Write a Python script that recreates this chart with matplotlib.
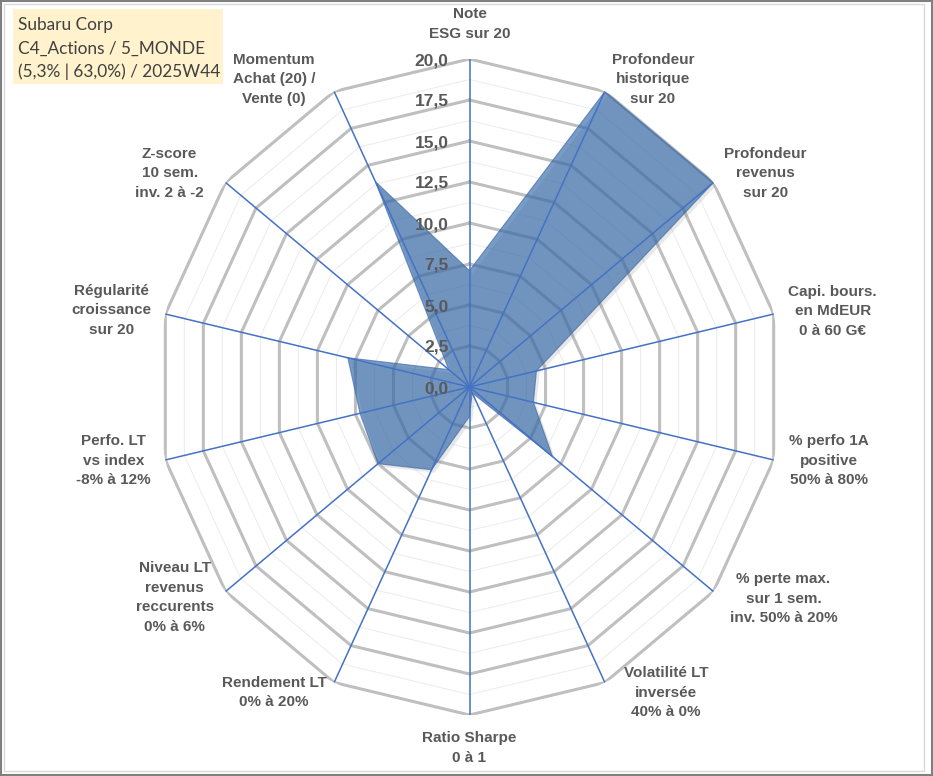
import numpy as np
import matplotlib
matplotlib.use("Agg")
import matplotlib.pyplot as plt
from matplotlib.patches import Rectangle
import matplotlib.transforms as mtransforms

# ---------------- data ----------------
categories = [
    "Note\nESG sur 20",
    "Profondeur\nhistorique\nsur 20",
    "Profondeur\nrevenus\nsur 20",
    "Capi. bours.\nen MdEUR\n0 à 60 G€",
    "% perfo 1A\npositive\n50% à 80%",
    "% perte max.\nsur 1 sem.\ninv. 50% à 20%",
    "Volatilité LT\ninversée\n40% à 0%",
    "Ratio Sharpe\n0 à 1",
    "Rendement LT\n0% à 20%",
    "Niveau LT\nrevenus\nreccurents\n0% à 6%",
    "Perfo. LT\nvs index\n-8% à 12%",
    "Régularité\ncroissance\nsur 20",
    "Z-score\n10 sem.\ninv. 2 à -2",
    "Momentum\nAchat (20) /\nVente (0)",
]
values = [7.1, 20.0, 20.0, 4.4, 4.2, 6.8, 0.4, 1.8, 5.6, 7.5, 7.2, 8.0, 1.7, 13.9]
tick_values = [0.0, 2.5, 5.0, 7.5, 10.0, 12.5, 15.0, 17.5, 20.0]
minor_values = [1.25, 3.75, 6.25, 8.75, 11.25, 13.75, 16.25, 18.75]
title_lines = ["Subaru Corp", "C4_Actions / 5_MONDE", "(5,3% | 63,0%) / 2025W44"]

# label offsets (pixels) from each axis end point
label_offsets = [(0, 35), (48, 12), (52, 9), (59, 3), (55, -1), (70, -7), (61, -10),
                 (0, -33), (-60, -10), (-51, -6), (-52, -1), (-54, 4), (-56, 9), (-60, 12)]

# ---------------- figure ----------------
W, H = 933, 776
fig = plt.figure(figsize=(W / 100, H / 100), dpi=100)
fig.patch.set_facecolor("white")

cx, cy = 469.5, 387.0      # centre in pixels (from top)
ra, rb = 312.0, 328.0      # horizontal / vertical radius
ax = fig.add_axes([(cx - ra) / W, (H - cy - rb) / H, 2 * ra / W, 2 * rb / H],
                  projection="polar")
ax.set_theta_offset(np.pi / 2)
ax.set_theta_direction(-1)
ax.set_ylim(0, 20)
ax.set_aspect("auto")
ax.set_xticks([])
ax.set_yticks([])
ax.grid(False)
ax.spines["polar"].set_visible(False)
ax.patch.set_alpha(0)

n = len(categories)
thetas = np.arange(n) * 2 * np.pi / n
closed = np.append(thetas, thetas[0])

# minor rings
for r in minor_values:
    ax.plot(closed, [r] * (n + 1), color="#EBEBEB", lw=0.7, zorder=1)
# major rings
for r in tick_values[1:]:
    ax.plot(closed, [r] * (n + 1), color="#BFBFBF", lw=2.2, zorder=1.2,
            solid_joinstyle="miter")

# shadow + filled series
vals_closed = np.append(values, values[0])
shadow_tr = mtransforms.offset_copy(ax.transData, fig=fig, x=3, y=-3, units="dots")
ax.fill(closed, vals_closed, color="#808080", alpha=0.18, lw=0, zorder=1.5,
        transform=shadow_tr)
ax.fill(closed, vals_closed, facecolor="#3268AA", alpha=0.65, edgecolor="#3A66A8",
        lw=0.8, zorder=2)

# spokes
for t in thetas:
    ax.plot([t, t], [0, 20], color="#4472C4", lw=1.1, zorder=3)

# radial tick labels
for v in tick_values:
    ax.annotate(f"{v:.1f}".replace(".", ","), xy=(0, v), xytext=(-21, 0),
                textcoords="offset pixels", ha="right", va="center_baseline",
                fontsize=12.5, fontweight="bold", color="#595959",
                family="Liberation Sans", zorder=5)

# category labels
for t, lab, (dx, dy) in zip(thetas, categories, label_offsets):
    ax.annotate(lab, xy=(t, 20), xytext=(dx, dy), textcoords="offset pixels",
                ha="center", va="center", multialignment="center",
                fontsize=11, fontweight="bold", color="#595959",
                family="Liberation Sans", linespacing=1.5, zorder=5,
                annotation_clip=False)

# title box
fig.patches.append(Rectangle((13.3 / W, (H - 84) / H), 209.4 / W, 74.7 / H,
                             transform=fig.transFigure, facecolor="#FFF2CC",
                             edgecolor="none", zorder=0))
for i, line in enumerate(title_lines):
    fig.text(18 / W, (H - (25 + 23.3 * i)) / H, line, ha="left", va="center",
             fontsize=12.4, color="#404040", family="Lato")

# frames
fig.patches.append(Rectangle((4 / W, 5 / H), 920 / W, 767 / H, transform=fig.transFigure,
                             facecolor="none", edgecolor="#D9D9D9", lw=1.0))
fig.patches.append(Rectangle((0.8 / W, 0.8 / H), (W - 1.6) / W, (H - 1.6) / H,
                             transform=fig.transFigure, facecolor="none",
                             edgecolor="#7F7F7F", lw=1.5))

fig.savefig("out.png", dpi=100)
